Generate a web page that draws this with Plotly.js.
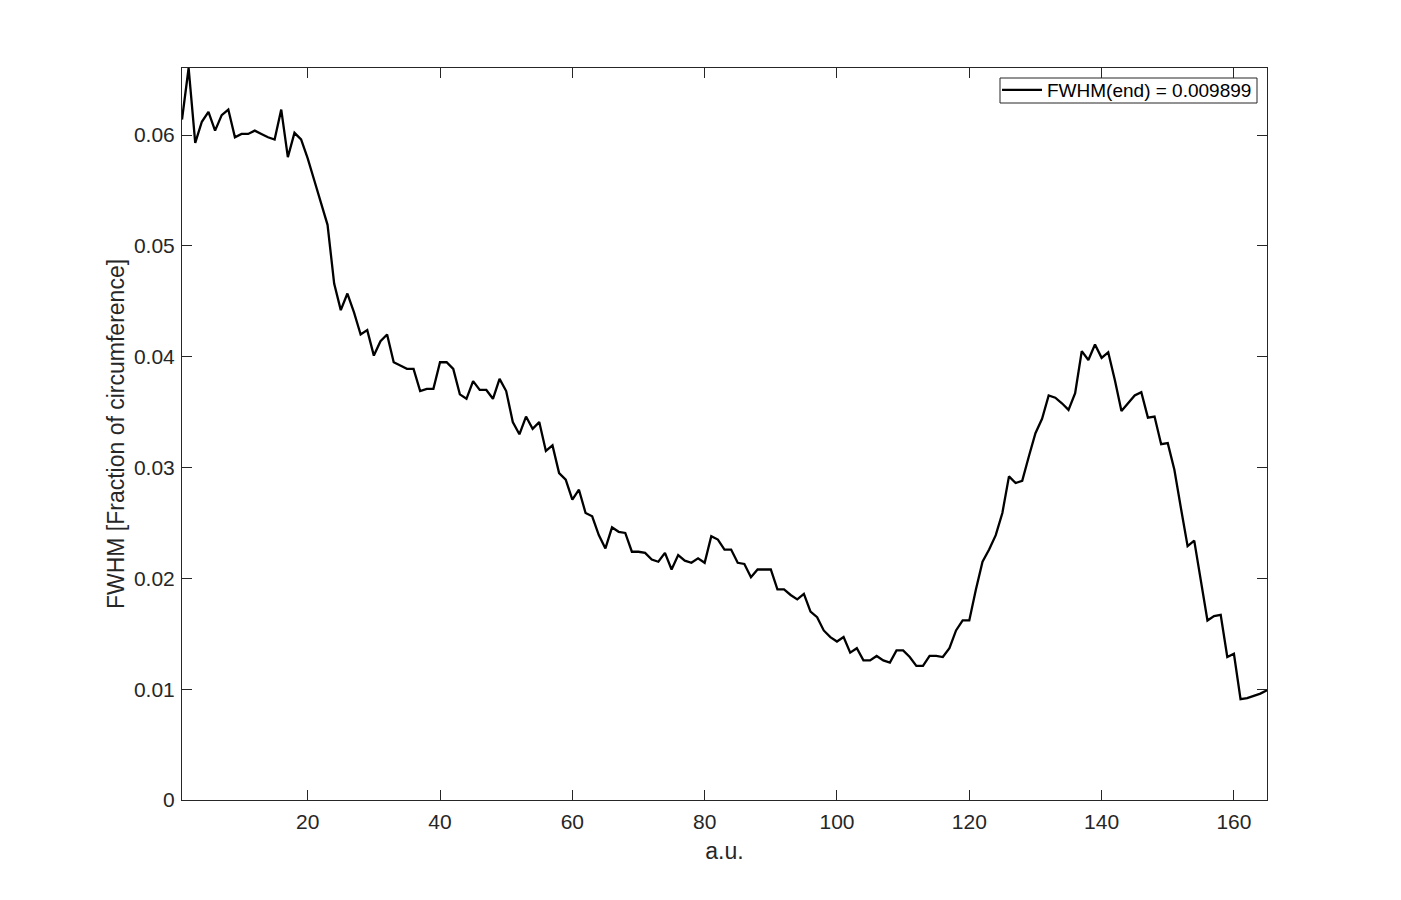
<!DOCTYPE html>
<html>
<head>
<meta charset="utf-8">
<script src="https://cdn.plot.ly/plotly-3.0.1.min.js"></script>
<style>
html, body { margin: 0; padding: 0; background: #ffffff; }
#chart { width: 1401px; height: 900px; }
</style>
</head>
<body>
<div id="chart"></div>
<script>
// FWHM values, one per sample (a.u. = 1 .. 165)
var fwhm = [
  0.0614, 0.06605, 0.0593, 0.0612, 0.0621, 0.0604, 0.0618, 0.0623, 0.0598, 0.0601,
  0.0601, 0.0604, 0.0601, 0.0598, 0.0596, 0.0623, 0.0580, 0.0602, 0.0596, 0.0579,
  0.0559, 0.0540, 0.0519, 0.0466, 0.0442, 0.0457, 0.0440, 0.0420, 0.0424, 0.0401,
  0.0414, 0.0420, 0.0395, 0.0392, 0.0389, 0.0389, 0.0369, 0.0371, 0.0371, 0.0395,
  0.0395, 0.0389, 0.0366, 0.0362, 0.0378, 0.0370, 0.0370, 0.0362, 0.0380, 0.0369,
  0.0341, 0.0330, 0.0346, 0.0335, 0.0341, 0.0315, 0.0320, 0.0295, 0.0289, 0.0271,
  0.0280, 0.0259, 0.0256, 0.0239, 0.0227, 0.0246, 0.0242, 0.0241, 0.0224, 0.0224,
  0.0223, 0.0217, 0.0215, 0.0223, 0.0208, 0.0221, 0.0216, 0.0214, 0.0218, 0.0214,
  0.0238, 0.0235, 0.0226, 0.0226, 0.0214, 0.0213, 0.0201, 0.0208, 0.0208, 0.0208,
  0.0190, 0.0190, 0.0185, 0.0181, 0.0186, 0.0170, 0.0165, 0.0153, 0.0147, 0.0143,
  0.0147, 0.0133, 0.0137, 0.0126, 0.0126, 0.0130, 0.0126, 0.0124, 0.0135, 0.0135,
  0.0129, 0.0121, 0.0121, 0.0130, 0.0130, 0.0129, 0.0137, 0.0153, 0.0162, 0.0162,
  0.0190, 0.0215, 0.0226, 0.0239, 0.0259, 0.0292, 0.0286, 0.0288, 0.0310, 0.0331,
  0.0344, 0.0365, 0.0363, 0.0358, 0.0352, 0.0367, 0.0405, 0.0397, 0.0411, 0.0399,
  0.0404, 0.0379, 0.0351, 0.0358, 0.0365, 0.0368, 0.0345, 0.0346, 0.0321, 0.0322,
  0.0298, 0.0263, 0.0229, 0.0234, 0.0198, 0.0162, 0.0166, 0.0167, 0.0129, 0.0132,
  0.0091, 0.0092, 0.0094, 0.0096, 0.009899
];
// sample index (a.u.)
var sampleIndex = fwhm.map(function (v, k) { return k + 1; });

var xTickVals = [20, 40, 60, 80, 100, 120, 140, 160];
var xTickText = ['20', '40', '60', '80', '100', '120', '140', '160'];
var yTickVals = [0, 0.01, 0.02, 0.03, 0.04, 0.05, 0.06];
var yTickText = ['0', '0.01', '0.02', '0.03', '0.04', '0.05', '0.06'];

var legendLabel = 'FWHM(end) = 0.009899';
var xLabel = 'a.u.';
var yLabel = 'FWHM [Fraction of circumference]';

var FONT = 'Liberation Sans, Arial, Helvetica, sans-serif';
var AX = '#262626';

var trace = {
  x: sampleIndex,
  y: fwhm,
  type: 'scatter',
  mode: 'lines',
  name: legendLabel,
  line: { color: '#000000', width: 2.3 }
};

// legend frame (MATLAB-style tight box), in paper coordinates
var legendBox = { x0: (1000 - 182) / 1085, x1: (1257 - 182) / 1085, y0: (800 - 103) / 732, y1: (800 - 78) / 732 };

var layout = {
  width: 1401,
  height: 900,
  paper_bgcolor: '#ffffff',
  plot_bgcolor: '#ffffff',
  margin: { l: 182, r: 134, t: 68, b: 100, pad: 0 },
  showlegend: true,
  font: { family: FONT, color: AX, size: 21 },
  legend: {
    x: 0.9908, y: 0.9959, xanchor: 'right', yanchor: 'top',
    bgcolor: 'rgba(0,0,0,0)', borderwidth: 0,
    font: { family: FONT, size: 19, color: '#000000' },
    itemwidth: 40,
    tracegroupgap: 0
  },
  shapes: [{
    type: 'rect', xref: 'paper', yref: 'paper', layer: 'above',
    x0: legendBox.x0, x1: legendBox.x1, y0: legendBox.y0, y1: legendBox.y1,
    line: { color: AX, width: 1 }, fillcolor: '#ffffff'
  }],
  xaxis: {
    range: [1, 165],
    tickmode: 'array', tickvals: xTickVals, ticktext: xTickText,
    ticks: 'inside', ticklen: 10, tickwidth: 1, tickcolor: AX,
    showline: true, linecolor: AX, linewidth: 1, mirror: 'ticks',
    showgrid: false, zeroline: false,
    tickfont: { family: FONT, size: 21, color: AX },
    ticklabelstandoff: 3,
    title: { text: xLabel, font: { family: FONT, size: 23, color: AX }, standoff: 10 },
    automargin: false
  },
  yaxis: {
    range: [0, 0.06605],
    tickmode: 'array', tickvals: yTickVals, ticktext: yTickText,
    ticks: 'inside', ticklen: 10, tickwidth: 1, tickcolor: AX,
    showline: true, linecolor: AX, linewidth: 1, mirror: 'ticks',
    showgrid: false, zeroline: false,
    tickfont: { family: FONT, size: 21, color: AX },
    ticklabelstandoff: 2,
    title: { text: yLabel, font: { family: FONT, size: 23, color: AX }, standoff: 2 },
    automargin: false
  }
};

Plotly.newPlot('chart', [trace], layout, { staticPlot: true, displayModeBar: false });
</script>
</body>
</html>
